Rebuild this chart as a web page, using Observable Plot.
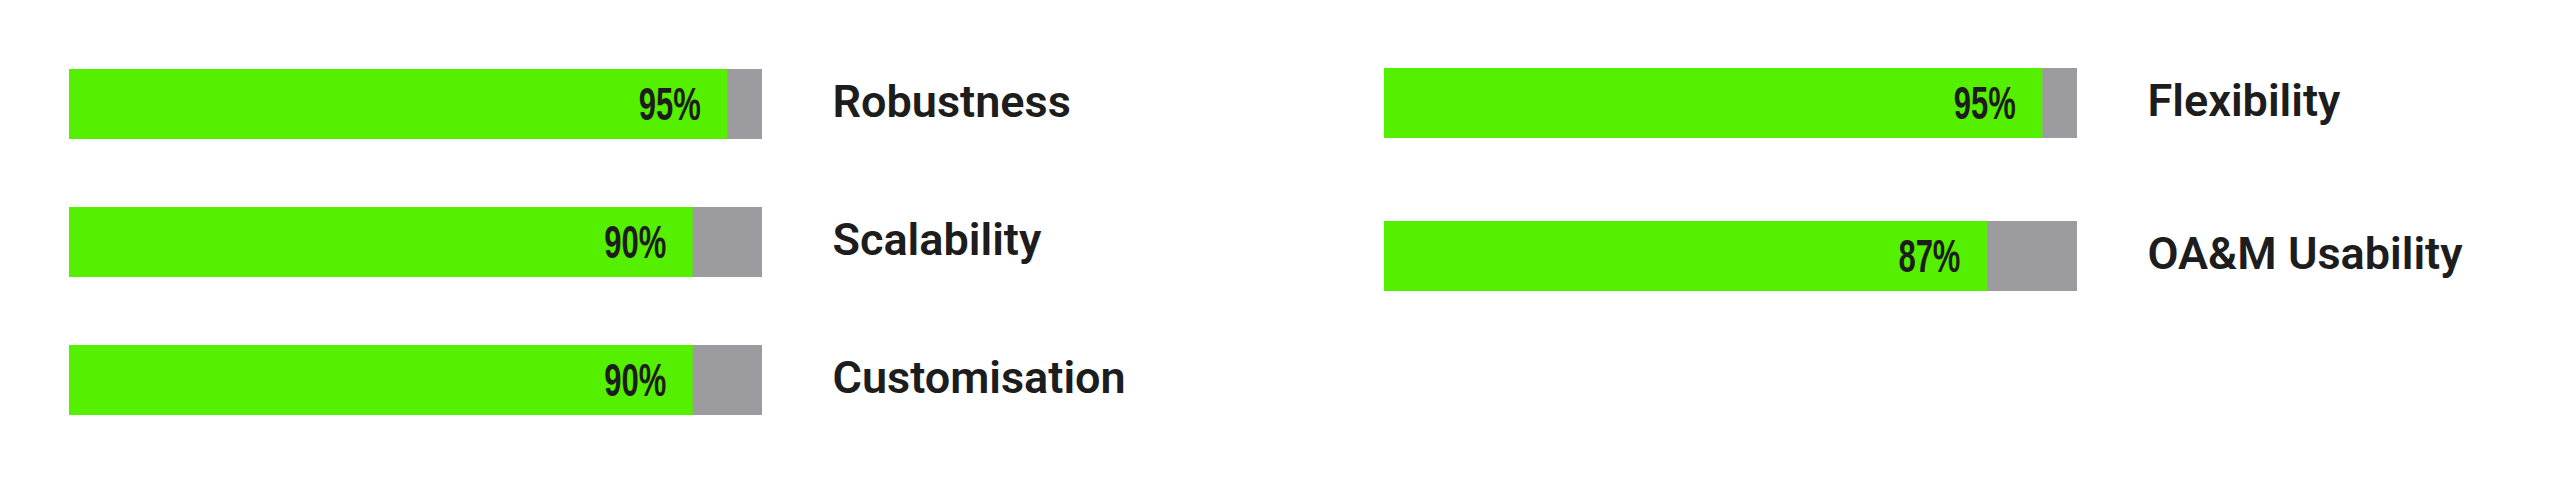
<!DOCTYPE html>
<html>
<head>
<meta charset="utf-8">
<script src="https://cdn.jsdelivr.net/npm/d3@7"></script>
<script src="https://cdn.jsdelivr.net/npm/@observablehq/plot@0.6"></script>
<style>
  html, body { margin: 0; padding: 0; background: #ffffff; }
  #wrap { display: flex; flex-direction: row; width: 2560px; height: 485px; }
  #wrap > svg, #wrap > figure { margin: 0; }
</style>
</head>
<body>
<div id="wrap"></div>
<script>
// ---- data ----
const leftCategories = ["Robustness", "Scalability", "Customisation"];
const leftValues = [95, 90, 90];
const rightCategories = ["Flexibility", "OA&M Usability"];
const rightValues = [95, 87];
const fullScale = 100;

const green = "#55f000";
const grey = "#9c9ca0";
const ink = "#1d1d1d";

function makePanel(categories, values, xRange, yRange, pad) {
  const rows = categories.map((name, i) => ({name, value: values[i], full: fullScale}));
  const svg = Plot.plot({
    width: 1280,
    height: 485,
    margin: 0,
    style: {background: "transparent", overflow: "visible"},
    x: {domain: [0, fullScale], range: xRange, axis: null},
    y: {domain: categories, range: yRange, paddingInner: pad, paddingOuter: 0, axis: null},
    marks: [
      Plot.barX(rows, {x1: 0, x2: "full", y: "name", fill: grey}),
      Plot.barX(rows, {x1: 0, x2: "value", y: "name", fill: green}),
      Plot.text(rows, {
        x: "value", y: "name", text: d => d.value + "%",
        dx: -27, dy: 1, textAnchor: "end",
        fontSize: 46, fontWeight: 700,
        fontFamily: "'Liberation Sans Narrow', 'Liberation Sans', sans-serif",
        fill: ink
      }),
      Plot.text(rows, {
        x: "full", y: "name", text: "name",
        dx: 70, dy: -2, textAnchor: "start",
        fontSize: 45, fontWeight: 600,
        fontFamily: "Roboto, 'Noto Sans', sans-serif",
        fill: ink
      })
    ]
  });
  svg.querySelectorAll("text").forEach(t => {
    if (/%$/.test(t.textContent)) {
      t.setAttribute("textLength", 62);
      t.setAttribute("lengthAdjust", "spacingAndGlyphs");
    }
  });
  return svg;
}

const wrap = document.getElementById("wrap");
wrap.appendChild(makePanel(leftCategories, leftValues, [69, 762], [68, 416], 0.496));
wrap.appendChild(makePanel(rightCategories, rightValues, [104, 797], [68, 291], 0.5425));
</script>
</body>
</html>
